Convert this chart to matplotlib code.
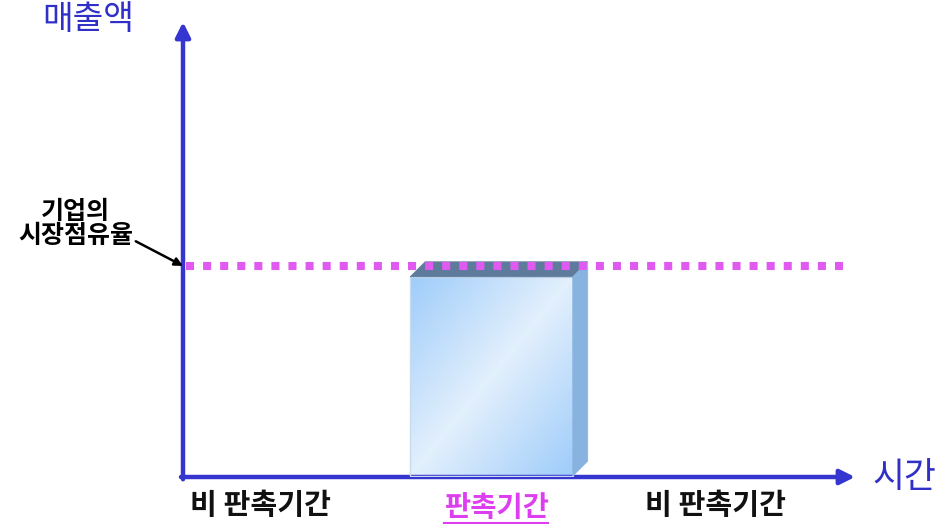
import numpy as np
import matplotlib
matplotlib.use("Agg")
import matplotlib.pyplot as plt
from matplotlib.patches import Polygon

plt.rcParams['font.family'] = ['Noto Sans CJK KR', 'DejaVu Sans']

# chart values (time and sales in arbitrary units)
time_max = 10.0
sales_max = 10.0
market_share = 4.64          # dotted level: company market share
promo_start = 3.38
promo_end = 5.80
promo_sales = 4.40           # height of the promotion box
period_labels = ["비 판촉기간", "판촉기간", "비 판촉기간"]
period_label_x = [1.15, 4.66, 7.93]
y_title = "매출액"
x_title = "시간"
share_label = "기업의\n시장점유율"

AXIS_BLUE = "#3535cf"
DOT_PINK = "#e05af2"
PROMO_PINK = "#dd3ff0"


def main():
    fig = plt.figure(figsize=(9.41, 5.24), dpi=100)
    ax = fig.add_axes([183 / 941, 47 / 524, 672 / 941, 455 / 524])
    ax.set_xlim(0, time_max)
    ax.set_ylim(0, sales_max)
    ax.axis("off")

    # axes with arrow heads
    ax.annotate("", xy=(0, sales_max), xytext=(0, -0.05),
                arrowprops=dict(arrowstyle="-|>", color=AXIS_BLUE, lw=3.2,
                                mutation_scale=22, shrinkA=0, shrinkB=0),
                annotation_clip=False)
    ax.annotate("", xy=(time_max, 0), xytext=(-0.03, 0),
                arrowprops=dict(arrowstyle="-|>", color=AXIS_BLUE, lw=3.2,
                                mutation_scale=22, shrinkA=0, shrinkB=0),
                annotation_clip=False)

    # 3D-looking promotion box
    dx, dy = 0.223, 0.33
    x0, x1 = promo_start, promo_end
    h = promo_sales
    u = np.linspace(0, 1, 200)
    v = np.linspace(0, 1, 200)
    U, V = np.meshgrid(u, v)
    t = (U + V) / 2.0
    w = 1 - np.abs(t - 0.5) * 2          # 1 in the middle diagonal
    dark = np.array([0.62, 0.80, 0.98])
    light = np.array([0.89, 0.94, 0.99])
    img = dark[None, None, :] + (light - dark)[None, None, :] * w[..., None]
    ax.imshow(img, extent=(x0, x1, 0.02, h), origin="upper",
              aspect="auto", zorder=2, interpolation="bilinear")
    ax.add_patch(Polygon([(x0, 0.02), (x1, 0.02), (x1, h), (x0, h)],
                         closed=True, fill=False, ec="#c9dcef", lw=1, zorder=3))
    ax.add_patch(Polygon([(x0, h), (x0 + dx, h + dy), (x1 + dx, h + dy), (x1, h)],
                         closed=True, fc="#5f7b9c", ec="#5f7b9c", lw=0.5, zorder=3))
    ax.add_patch(Polygon([(x1, h), (x1 + dx, h + dy), (x1 + dx, 0.02 + dy), (x1, 0.02)],
                         closed=True, fc="#88b3e0", ec="#88b3e0", lw=0.5, zorder=3))
    ax.set_xlim(0, time_max)
    ax.set_ylim(0, sales_max)

    # market share dotted line
    ax.plot([0.04, 9.86], [market_share, market_share], color=DOT_PINK,
            lw=5.8, dashes=(1, 1.12), dash_capstyle="butt", zorder=4,
            clip_on=False)

    # text labels
    ax.text(-1.41, 10.05, y_title, color="#3030c8", fontsize=24,
            style="italic", ha="center", va="center")
    ax.text(10.73, -0.02, x_title, color="#3030c8", fontsize=25,
            style="italic", ha="center", va="center")
    ax.annotate(share_label, xy=(0.0, market_share), xytext=(-1.6, 5.55),
                fontsize=18, ha="center", va="center", linespacing=1.0,
                fontweight="bold",
                arrowprops=dict(arrowstyle="-|>", color="black", lw=1.8,
                                mutation_scale=12, shrinkA=0, shrinkB=0,
                                relpos=(1.0, 0.18)),
                annotation_clip=False)

    for i, (lab, xp) in enumerate(zip(period_labels, period_label_x)):
        if i == 1:
            ax.text(xp, -0.68, lab, color=PROMO_PINK, fontsize=20.5,
                    ha="center", va="center", fontweight="bold")
            ax.plot([xp - 0.77, xp + 0.77], [-1.02, -1.02], color=PROMO_PINK,
                    lw=1.5, clip_on=False)
        else:
            ax.text(xp, -0.62, lab, color="#111111", fontsize=21,
                    ha="center", va="center", fontweight="bold")

    fig.savefig("out.png", dpi=100)


if __name__ == "__main__":
    main()
